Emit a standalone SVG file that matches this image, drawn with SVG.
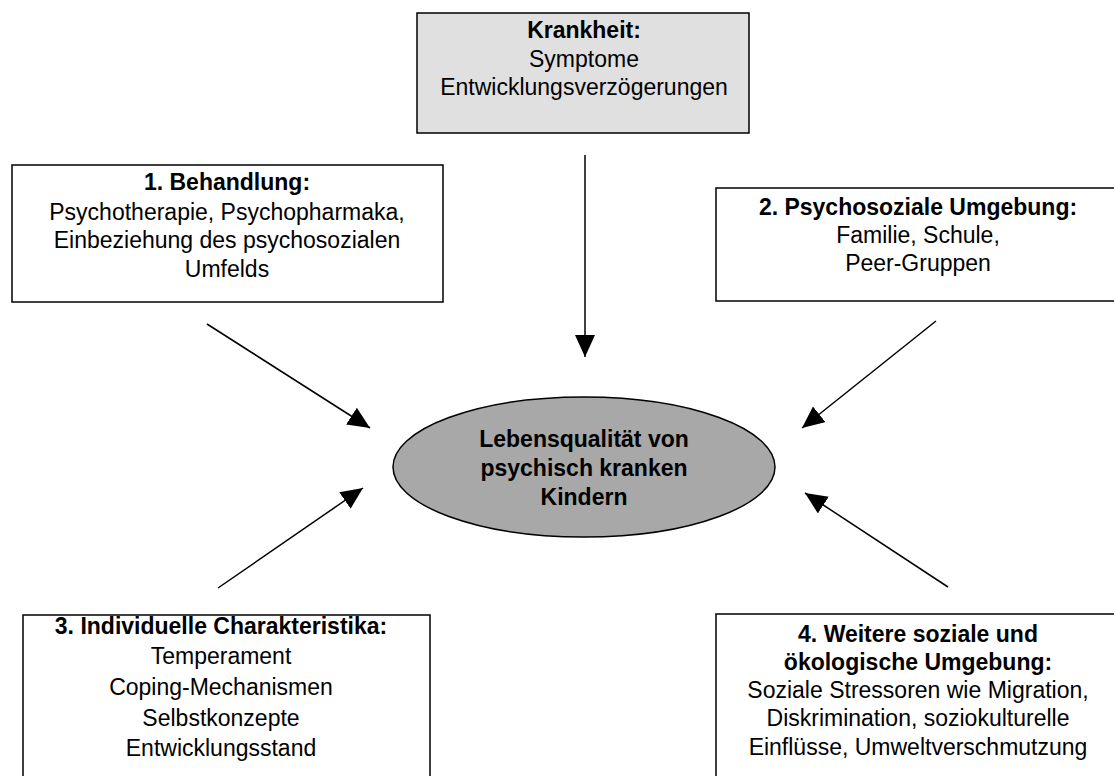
<svg xmlns="http://www.w3.org/2000/svg" width="1114" height="776" viewBox="0 0 1114 776">
<style>
text{font-family:"Liberation Sans",Arial,sans-serif;font-size:23px;fill:#000;text-anchor:middle}
.b{font-weight:bold}
.box{fill:#fff;stroke:#000;stroke-width:1.5}
.conn line{stroke:#000;stroke-width:1.5}
</style>
<defs>
<marker id="ah" markerUnits="userSpaceOnUse" markerWidth="24" markerHeight="22" refX="22" refY="10" orient="auto">
<path d="M0,0 L22,10 L0,20 z" fill="#000"/>
</marker>
</defs>
<rect width="1114" height="776" fill="#fff"/>
<g id="krankheit">
<rect x="417" y="13" width="332" height="120" fill="#e0e0e0" stroke="#000" stroke-width="1.5"/>
<text x="584" y="38" class="b">Krankheit:</text>
<text x="584" y="67">Symptome</text>
<text x="584" y="95">Entwicklungsverzögerungen</text>
</g>
<g id="behandlung">
<rect class="box" x="12" y="165" width="431" height="137"/>
<text x="227" y="190" class="b">1. Behandlung:</text>
<text x="227" y="220">Psychotherapie, Psychopharmaka,</text>
<text x="227" y="248">Einbeziehung des psychosozialen</text>
<text x="227" y="277">Umfelds</text>
</g>
<g id="psychosozial">
<rect class="box" x="716" y="188" width="410" height="113"/>
<text x="918" y="215" class="b">2. Psychosoziale Umgebung:</text>
<text x="918" y="243">Familie, Schule,</text>
<text x="918" y="271">Peer-Gruppen</text>
</g>
<g id="lebensqualitaet">
<ellipse cx="584" cy="467" rx="191" ry="70" fill="#a8a8a8" stroke="#000" stroke-width="1.5"/>
<text x="584" y="447" class="b">Lebensqualität von</text>
<text x="584" y="476" class="b">psychisch kranken</text>
<text x="584" y="505" class="b">Kindern</text>
</g>
<g id="individuell">
<rect class="box" x="23" y="615" width="407" height="180"/>
<text x="221" y="634" class="b">3. Individuelle Charakteristika:</text>
<text x="221" y="664">Temperament</text>
<text x="221" y="695">Coping-Mechanismen</text>
<text x="221" y="726">Selbstkonzepte</text>
<text x="221" y="756">Entwicklungsstand</text>
</g>
<g id="weitere">
<rect class="box" x="716" y="614" width="410" height="180"/>
<text x="918" y="642" class="b">4. Weitere soziale und</text>
<text x="918" y="670" class="b">ökologische Umgebung:</text>
<text x="918" y="698">Soziale Stressoren wie Migration,</text>
<text x="918" y="726">Diskrimination, soziokulturelle</text>
<text x="918" y="755">Einflüsse, Umweltverschmutzung</text>
</g>
<g id="connectors" class="conn">
<line x1="585" y1="155" x2="585" y2="357" marker-end="url(#ah)"/>
<line x1="207" y1="324" x2="370" y2="428" marker-end="url(#ah)"/>
<line x1="936" y1="321" x2="802" y2="428" marker-end="url(#ah)"/>
<line x1="218" y1="588" x2="363" y2="488" marker-end="url(#ah)"/>
<line x1="948" y1="587" x2="805" y2="493" marker-end="url(#ah)"/>
</g>
</svg>
